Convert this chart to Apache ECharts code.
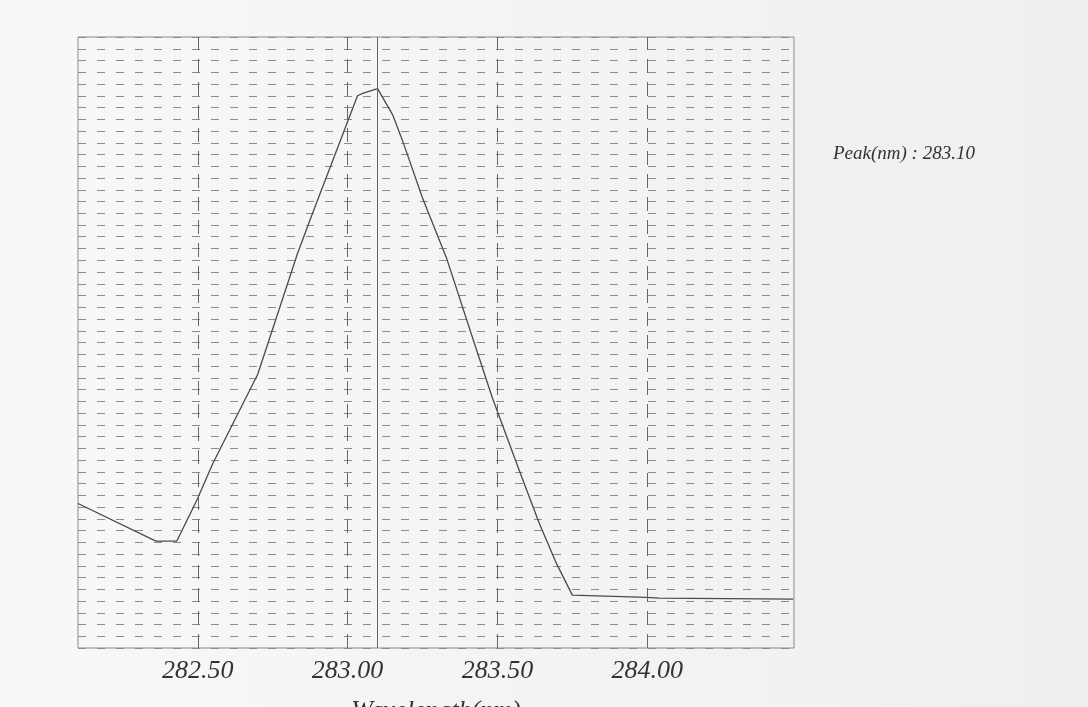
<!DOCTYPE html>
<html>
<head>
<meta charset="utf-8">
<script src="https://cdn.jsdelivr.net/npm/echarts@6/dist/echarts.min.js"></script>
<style>
html,body{margin:0;padding:0;background:#f6f6f8;}
#chart{width:1088px;height:707px;}
</style>
</head>
<body>
<div id="chart"></div>
<script>
// Wavelength (nm) values of the traced spectrum
var wavelengths = [282.100, 282.360, 282.430, 282.497, 282.550, 282.700, 282.833, 282.883, 283.033, 283.050, 283.100, 283.150, 283.183, 283.250, 283.330, 283.417, 283.483, 283.573, 283.640, 283.697, 283.750, 283.997, 284.040, 284.487];
// Relative intensity (arbitrary units, 0..52 grid rows)
var intensities = [12.3, 9.1, 9.1, 12.6, 15.7, 23.3, 33.6, 37.0, 47.0, 47.2, 47.6, 45.4, 43.2, 38.3, 33.2, 26.4, 21.3, 15.1, 10.6, 7.2, 4.5, 4.3, 4.25, 4.16];
// Major wavelength tick labels
var xTicks = [282.5, 283.0, 283.5, 284.0];
var peakWavelength = 283.10;
var peakLabel = 'Peak(nm) : 283.10';
var xName = 'Wavelength(nm)';

var seriesData = wavelengths.map(function (w, i) { return [w, intensities[i]]; });
var font = 'Liberation Serif';

var chart = echarts.init(document.getElementById('chart'));
chart.setOption({
  backgroundColor: {
    type: 'linear', x: 0, y: 0, x2: 1, y2: 0,
    colorStops: [{offset: 0, color: '#f8f8fa'}, {offset: 1, color: '#efeff1'}]
  },
  animation: false,
  grid: {left: 78, top: 37, right: 294, bottom: 59, outerBoundsMode: 'none', containLabel: false,
         show: true, borderColor: '#8a8a8a', borderWidth: 1, backgroundColor: 'transparent'},
  xAxis: {
    type: 'value', min: 282.1, max: 284.49,
    axisLine: {show: false}, axisTick: {show: false}, splitLine: {show: false},
    axisLabel: {
      customValues: xTicks, margin: 10,
      formatter: function (v) { return Number(v).toFixed(2); },
      fontFamily: font, fontStyle: 'italic', fontSize: 26, color: '#333'
    },
    name: xName, nameLocation: 'middle', nameGap: 50,
    nameTextStyle: {fontFamily: font, fontStyle: 'italic', fontSize: 26, color: '#333'}
  },
  yAxis: {
    type: 'value', min: 0, max: 52, interval: 1,
    axisLine: {show: false}, axisTick: {show: false}, axisLabel: {show: false},
    splitLine: {show: true, lineStyle: {color: '#8c8c8c', width: 1, type: [8, 11]}}
  },
  graphic: [{
    type: 'text', left: 833, top: 144,
    style: {text: peakLabel, fontFamily: font, fontStyle: 'italic', fontSize: 19, fill: '#333'}
  }],
  series: [{
    type: 'line', data: seriesData, symbol: 'none',
    lineStyle: {color: '#4a4a4a', width: 1.3},
    markLine: {
      silent: true, symbol: 'none', label: {show: false},
      data: xTicks.map(function (t) {
        return {xAxis: t, lineStyle: {color: '#666', width: 1, type: [14, 9]}};
      }).concat([{xAxis: peakWavelength, lineStyle: {color: '#666', width: 1, type: 'solid'}}])
    }
  }]
});
</script>
</body>
</html>
